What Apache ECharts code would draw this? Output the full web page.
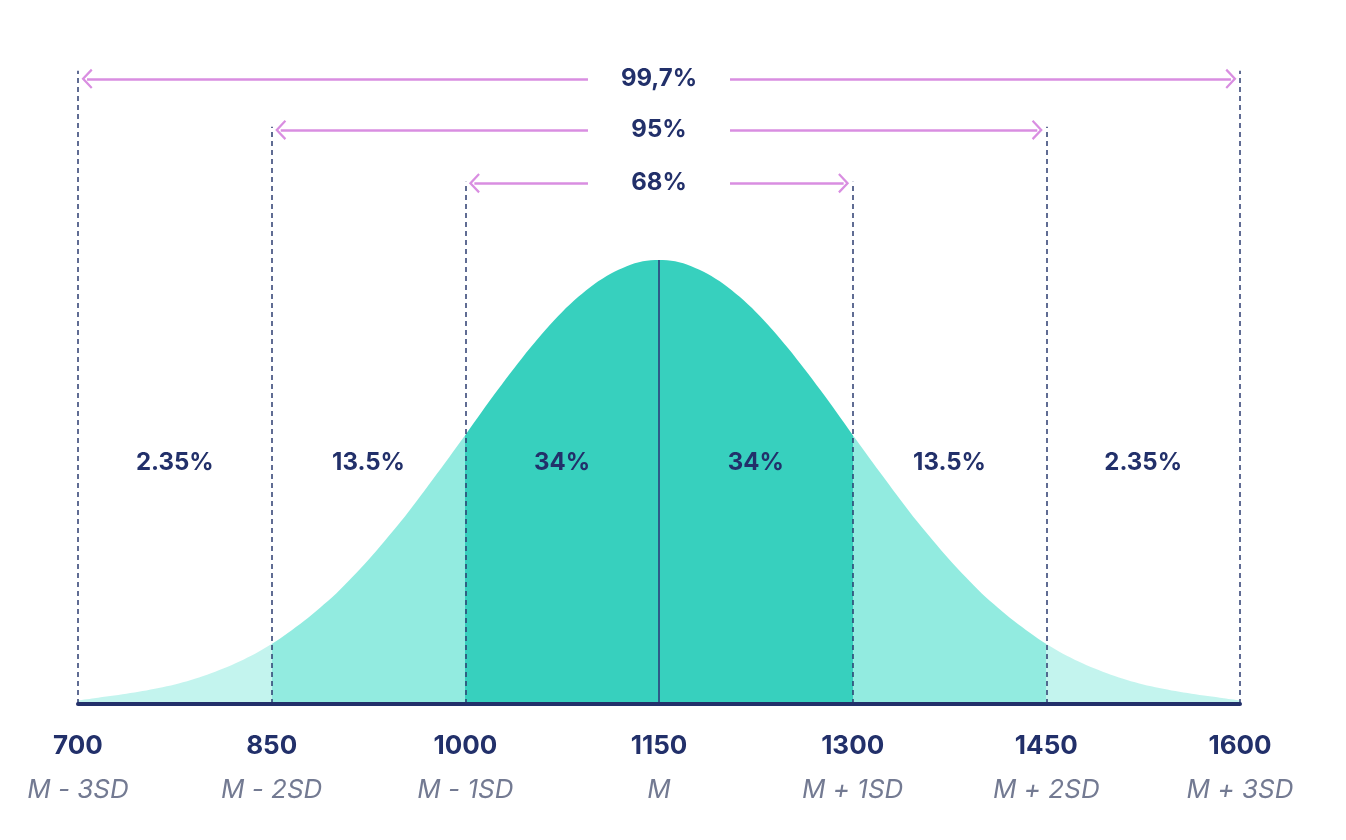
<!DOCTYPE html>
<html>
<head>
<meta charset="utf-8">
<title>Normal distribution</title>
<script src="https://cdn.jsdelivr.net/npm/echarts@6/dist/echarts.min.js"></script>
<style>
  html, body { margin: 0; padding: 0; background: #fff; }
  #chart { width: 1346px; height: 840px; }
</style>
</head>
<body>
<div id="chart"></div>
<script>
// curve, peak = 100
const xs = [700, 712.5, 725, 737.5, 750, 762.5, 775, 787.5, 800, 812.5, 825, 837.5,
            850, 862.5, 875, 887.5, 900, 912.5, 925, 937.5, 950, 962.5, 975, 987.5,
            1000, 1012.5, 1025, 1037.5, 1050, 1062.5, 1075, 1087.5, 1100, 1112.5, 1125, 1137.5,
            1150, 1162.5, 1175, 1187.5, 1200, 1212.5, 1225, 1237.5, 1250, 1262.5, 1275, 1287.5,
            1300, 1312.5, 1325, 1337.5, 1350, 1362.5, 1375, 1387.5, 1400, 1412.5, 1425, 1437.5,
            1450, 1462.5, 1475, 1487.5, 1500, 1512.5, 1525, 1537.5, 1550, 1562.5, 1575, 1587.5, 1600];
const density = [0.8, 1.3, 1.8, 2.3, 2.9, 3.6, 4.4, 5.4, 6.6, 8, 9.6, 11.4,
                 13.5, 16, 18.7, 21.7, 24.9, 28.6, 32.5, 36.7, 41.1, 45.8, 50.7, 55.6,
                 60.6, 65.7, 70.7, 75.5, 80.1, 84.4, 88.3, 91.7, 94.6, 96.9, 98.6, 99.7,
                 100, 99.7, 98.6, 96.9, 94.6, 91.7, 88.3, 84.4, 80.1, 75.5, 70.7, 65.7,
                 60.6, 55.6, 50.7, 45.8, 41.1, 36.7, 32.5, 28.6, 24.9, 21.7, 18.7, 16,
                 13.5, 11.4, 9.6, 8, 6.6, 5.4, 4.4, 3.6, 2.9, 2.3, 1.8, 1.3, 0.8];

const tickValues = [700, 850, 1000, 1150, 1300, 1450, 1600];
const sdNames = ['M - 3SD', 'M - 2SD', 'M - 1SD', 'M', 'M + 1SD', 'M + 2SD', 'M + 3SD'];
const regionShares = ['2.35%', '13.5%', '34%', '34%', '13.5%', '2.35%'];
const coverage = ['68%', '95%', '99,7%'];   // +-1, 2, 3 SD
const mean = 1150;
const sd = 150;

const NAVY = '#22306a';
const GRAY = '#737a92';
const PINK = '#d98ee1';
const FILLS = ['#c3f4ee', '#92ebe0', '#37d0be', '#37d0be', '#92ebe0', '#c3f4ee'];

const chart = echarts.init(document.getElementById('chart'));

// levels in y units (axis max 150)
const arrowLevel = [117.3, 129.3, 140.8];
const guideTop = [117.6, 130, 142.6];
const labelLevel = 54.3;
const gapHalf = 55;     // room for the text in the middle of each arrow
const tipInset = 7;

const chevron = 'path://M0,12 L12,0 L24,12 L22,14 L12,4 L2,14 Z';

const textStyle = {
    color: NAVY, fontFamily: 'Inter', fontWeight: 'bold', fontSize: 24, opacity: 1,
    textBorderWidth: 0, textBorderColor: 'transparent', textShadowBlur: 0
};

const series = [];

// the curve, coloured per SD band by the visualMap below
series.push({
    type: 'line',
    data: xs.map((x, i) => [x, density[i]]),
    smooth: 0.3,
    symbol: 'none',
    lineStyle: { width: 0 },
    areaStyle: { opacity: 1 },
    silent: true,
    z: 1
});

// dashed guides
const guides = [];
tickValues.forEach((v, i) => {
    if (v === mean) return;
    const lvl = guideTop[Math.abs(i - 3) - 1];
    guides.push([{ coord: [v, 0] }, { coord: [v, lvl] }]);
});
series.push({
    type: 'line', data: [], silent: true, z: 3,
    markLine: {
        silent: true, symbol: 'none', animation: false,
        label: { show: false },
        lineStyle: { color: '#2c3c70', width: 1.5, type: [5, 4] },
        data: guides
    }
});

// mean line
series.push({
    type: 'line', data: [], silent: true, z: 3,
    markLine: {
        silent: true, symbol: 'none', animation: false,
        label: { show: false },
        lineStyle: { color: '#2f5a88', width: 2, type: 'solid' },
        data: [[{ coord: [mean, 0] }, { coord: [mean, 100] }]]
    }
});

// coverage arrows
const arrows = [];
for (let n = 1; n <= 3; n++) {
    const y = arrowLevel[n - 1];
    arrows.push([{ coord: [mean - gapHalf, y] }, { coord: [mean - n * sd + tipInset, y] }]);
    arrows.push([{ coord: [mean + gapHalf, y] }, { coord: [mean + n * sd - tipInset, y] }]);
}
series.push({
    type: 'line', data: [], silent: true, z: 4,
    markLine: {
        silent: true, animation: false,
        symbol: ['none', chevron],
        symbolSize: [20, 11],
        label: { show: false },
        lineStyle: { color: PINK, width: 2.5, type: 'solid' },
        data: arrows
    }
});

// coverage labels
series.push({
    type: 'scatter', silent: true, z: 5,
    symbolSize: 0,
    itemStyle: { color: 'transparent', opacity: 1 },
    data: coverage.map((t, i) => ({ value: [mean, arrowLevel[i]], name: t })),
    label: Object.assign({ show: true, position: 'inside', formatter: p => p.name }, textStyle)
});

// region shares
series.push({
    type: 'scatter', silent: true, z: 5,
    symbolSize: 0,
    itemStyle: { color: 'transparent', opacity: 1 },
    data: regionShares.map((t, k) => ({ value: [tickValues[k] + sd / 2, labelLevel], name: t })),
    label: Object.assign({ show: true, position: 'inside', formatter: p => p.name }, textStyle)
});

chart.setOption({
    animation: false,
    grid: { left: 78, right: 106, top: 38, bottom: 136 },
    visualMap: {
        show: false,
        type: 'piecewise',
        dimension: 0,
        seriesIndex: 0,
        pieces: FILLS.map((c, k) => ({ gte: tickValues[k], lt: tickValues[k + 1], color: c }))
            .concat([{ gte: 1600, lte: 1700, color: FILLS[5] }])
    },
    xAxis: {
        type: 'value',
        min: 700, max: 1600, interval: 150,
        splitLine: { show: false },
        axisTick: { show: false },
        axisLine: { lineStyle: { color: NAVY, width: 4 } },
        axisLabel: {
            margin: 20,
            formatter: v => '{a|' + v + '}\n{b|' + sdNames[tickValues.indexOf(v)] + '}',
            rich: {
                a: { color: NAVY, fontFamily: 'Inter', fontWeight: 'bold', fontSize: 26, lineHeight: 44 },
                b: { color: GRAY, fontFamily: 'Inter', fontStyle: 'italic', fontSize: 26, lineHeight: 44 }
            }
        },
        z: 6
    },
    yAxis: { type: 'value', min: 0, max: 150, show: false },
    series: series
});
</script>
</body>
</html>
